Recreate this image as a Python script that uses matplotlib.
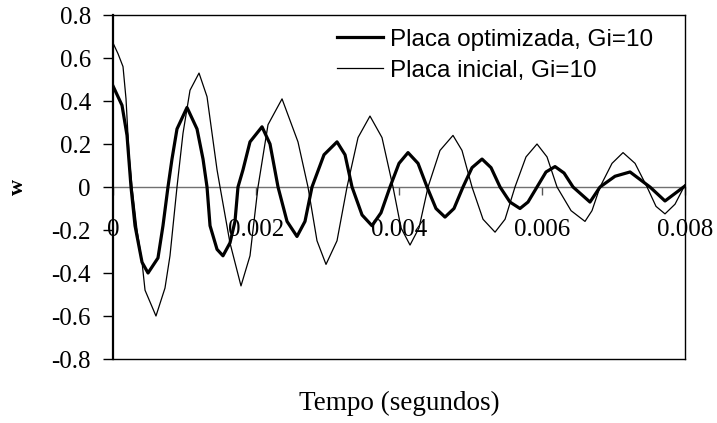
import numpy as np
import matplotlib
matplotlib.use("Agg")
import matplotlib.pyplot as plt

# time (s) and displacement w
t_opt = [0, 0.000126, 0.000196, 0.000252, 0.000308, 0.000406, 0.000490, 0.000629,
         0.000699, 0.000769, 0.000825, 0.000895, 0.001035, 0.001175, 0.001259, 0.001315,
         0.001357, 0.001455, 0.001538, 0.001636, 0.001706, 0.001748, 0.001818, 0.001916,
         0.002084, 0.002196, 0.002308, 0.002434, 0.002573, 0.002685, 0.002783, 0.002951,
         0.003133, 0.003245, 0.003343, 0.003483, 0.003622, 0.003748, 0.003874, 0.004000,
         0.004126, 0.004266, 0.004392, 0.004517, 0.004643, 0.004769, 0.004895, 0.005021,
         0.005161, 0.005287, 0.005413, 0.005552, 0.005692, 0.005804, 0.005930, 0.006056,
         0.006182, 0.006308, 0.006434, 0.006671, 0.006811, 0.007021, 0.007231, 0.007510,
         0.007720, 0.008000]
w_opt = [0.47, 0.38, 0.24, 0.0, -0.18, -0.35, -0.40, -0.33,
         -0.18, 0.0, 0.13, 0.27, 0.37, 0.27, 0.13, 0.0,
         -0.18, -0.29, -0.32, -0.26, -0.16, 0.0, 0.08, 0.21,
         0.28, 0.20, 0.0, -0.16, -0.23, -0.16, 0.0, 0.15,
         0.21, 0.15, 0.0, -0.13, -0.18, -0.12, 0.0, 0.11,
         0.16, 0.11, 0.0, -0.10, -0.14, -0.10, 0.0, 0.09,
         0.13, 0.09, 0.0, -0.07, -0.10, -0.07, 0.0, 0.07,
         0.095, 0.065, 0.0, -0.07, 0.0, 0.05, 0.07, 0.0,
         -0.065, 0.005]

t_ini = [0, 0.000070, 0.000140, 0.000182, 0.000224, 0.000266, 0.000336, 0.000406,
         0.000448, 0.000601, 0.000727, 0.000797, 0.000895, 0.000979, 0.001077, 0.001203,
         0.001315, 0.001385, 0.001455, 0.001497, 0.001636, 0.001790, 0.001916, 0.002028,
         0.002168, 0.002364, 0.002587, 0.002727, 0.002853, 0.002979, 0.003133, 0.003273,
         0.003427, 0.003594, 0.003762, 0.003916, 0.004028, 0.004154, 0.004280, 0.004406,
         0.004573, 0.004755, 0.004881, 0.005021, 0.005175, 0.005343, 0.005483, 0.005622,
         0.005776, 0.005930, 0.006070, 0.006210, 0.006406, 0.006601, 0.006699, 0.006811,
         0.006979, 0.007133, 0.007301, 0.007469, 0.007594, 0.007720, 0.007860, 0.008000]
w_ini = [0.67, 0.62, 0.56, 0.41, 0.15, 0.0, -0.20, -0.35,
         -0.48, -0.60, -0.47, -0.32, 0.0, 0.25, 0.45, 0.53,
         0.42, 0.25, 0.08, 0.0, -0.26, -0.46, -0.32, 0.0,
         0.29, 0.41, 0.21, 0.0, -0.25, -0.36, -0.25, 0.0,
         0.23, 0.33, 0.23, 0.0, -0.19, -0.27, -0.19, 0.0,
         0.17, 0.24, 0.17, 0.0, -0.15, -0.21, -0.15, 0.0,
         0.14, 0.20, 0.14, 0.0, -0.11, -0.16, -0.11, 0.0,
         0.11, 0.16, 0.11, 0.0, -0.09, -0.125, -0.08, 0.01]

xticks = [0, 0.002, 0.004, 0.006, 0.008]
xticklabels = ["0", "0.002", "0.004", "0.006", "0.008"]
yticks = [-0.8, -0.6, -0.4, -0.2, 0, 0.2, 0.4, 0.6, 0.8]
yticklabels = ["-0.8", "-0.6", "-0.4", "-0.2", "0", "0.2", "0.4", "0.6", "0.8"]

plt.rcParams["font.family"] = "Liberation Serif"
plt.rcParams["font.size"] = 18

fig = plt.figure(figsize=(7.17, 4.23), dpi=100)
ax = fig.add_axes([0.1576, 0.1513, 0.7978, 0.8132])

ax.plot(t_opt, w_opt, color="black", lw=2.3, label="Placa optimizada, Gi=10", zorder=3)
ax.plot(t_ini, w_ini, color="black", lw=0.9, label="Placa inicial, Gi=10", zorder=3)

ax.set_xlim(0, 0.008)
ax.set_ylim(-0.8, 0.8)

for s in ["top", "right", "bottom"]:
    ax.spines[s].set_linewidth(1.0)
ax.spines["left"].set_linewidth(1.6)

ax.set_yticks(yticks)
ax.set_yticklabels(yticklabels)
ax.tick_params(axis="y", direction="out", length=7, width=1, pad=9, labelsize=18)
ax.set_xticks([])

# x axis drawn through w=0, Excel style
sec = ax.secondary_xaxis(0.5)
sec.xaxis.set_ticks_position("bottom")
for s in ["top", "bottom"]:
    sec.spines[s].set_color("#707070")
    sec.spines[s].set_linewidth(1.0)
sec.set_xticks(xticks)
sec.set_xticklabels(xticklabels)
sec.tick_params(axis="x", direction="out", length=6, width=1.0, color="#555555",
                pad=17, labelsize=18)

ax.set_ylabel("w", fontsize=16, fontweight="bold")
ax.yaxis.set_label_coords(-0.148, 0.5)
fig.text(0.557, 1 - 410 / 423, "Tempo (segundos)", fontsize=19.5,
         ha="center", va="baseline")

ax.legend(loc="upper left", bbox_to_anchor=(0.392, 0.96), frameon=False,
          prop={"family": "Liberation Sans", "size": 17.5}, handlelength=1.9,
          handletextpad=0.29, labelspacing=0.37, borderpad=0, borderaxespad=0)

fig.savefig("out.png", dpi=100)
